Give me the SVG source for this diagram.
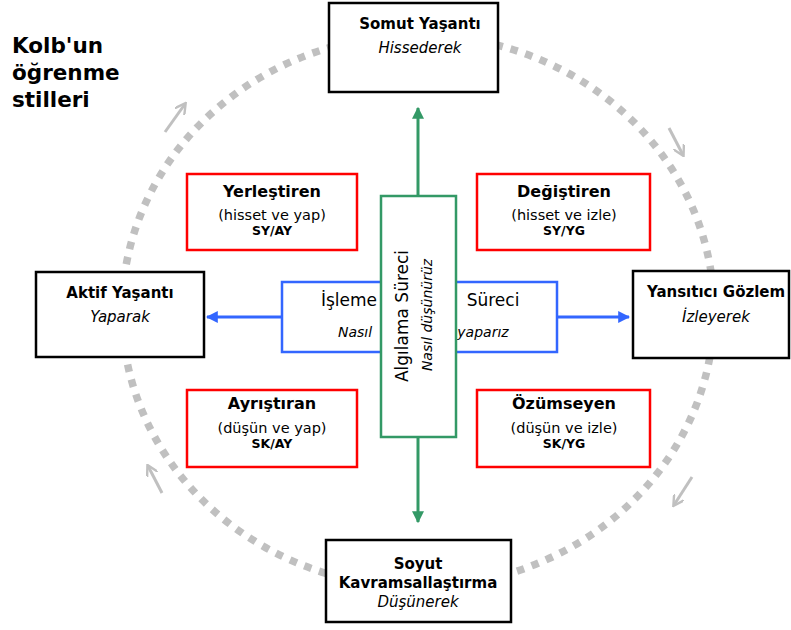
<svg xmlns="http://www.w3.org/2000/svg" width="791" height="630" viewBox="0 0 791 630">
<style>
text{font-family:"DejaVu Sans","Liberation Sans",sans-serif;fill:#000;text-anchor:middle}
.b{font-weight:bold;font-size:15px}
.i{font-style:italic;font-size:15px}
.rb{font-weight:bold;font-size:16px}
.r{font-size:14.5px}
.s{font-weight:bold;font-size:12.5px}
.blk{fill:#fff;stroke:#000;stroke-width:2.5}
.red{fill:#fff;stroke:#ff0000;stroke-width:2.5}
.ring{fill:none;stroke:#c0c0c0;stroke-width:7.5;stroke-dasharray:7.5 8}
.garr{stroke:#c0c0c0;stroke-width:3;fill:none}
</style>
<defs>
<marker id="ag" viewBox="0 0 10 10" refX="9" refY="5" markerWidth="4" markerHeight="4" orient="auto"><path d="M0,0L10,5L0,10z" fill="#339966"/></marker>
<marker id="ab" viewBox="0 0 10 10" refX="9" refY="5" markerWidth="4" markerHeight="4" orient="auto"><path d="M0,0L10,5L0,10z" fill="#3366ff"/></marker>
<marker id="ay" viewBox="0 0 10 10" refX="8" refY="5" markerWidth="4" markerHeight="4" orient="auto"><path d="M0,0L9,5L0,10" fill="none" stroke="#c0c0c0" stroke-width="2"/></marker>
</defs>
<ellipse class="ring" cx="418" cy="311" rx="296" ry="276"/>
<g id="cycle-arrows">
<line class="garr" x1="165" y1="132" x2="185" y2="104" marker-end="url(#ay)"/>
<line class="garr" x1="669" y1="128" x2="683" y2="155" marker-end="url(#ay)"/>
<line class="garr" x1="692" y1="477" x2="674" y2="505" marker-end="url(#ay)"/>
<line class="garr" x1="162" y1="493" x2="148" y2="466" marker-end="url(#ay)"/>
</g>
<g id="title">
<text x="12" y="53" style="text-anchor:start;font-weight:bold;font-size:21.5px">Kolb'un</text>
<text x="12" y="80" style="text-anchor:start;font-weight:bold;font-size:21.5px">öğrenme</text>
<text x="12" y="107" style="text-anchor:start;font-weight:bold;font-size:21.5px">stilleri</text>
</g>
<g id="connectors">
<line x1="418" y1="196" x2="418" y2="108" stroke="#339966" stroke-width="3" marker-end="url(#ag)"/>
<line x1="418" y1="437" x2="418" y2="522" stroke="#339966" stroke-width="3" marker-end="url(#ag)"/>
<line x1="282" y1="317" x2="207" y2="317" stroke="#3366ff" stroke-width="3" marker-end="url(#ab)"/>
<line x1="557" y1="317" x2="629" y2="317" stroke="#3366ff" stroke-width="3" marker-end="url(#ab)"/>
</g>
<g id="somut">
<rect class="blk" x="329" y="3" width="169" height="89"/>
<text class="b" x="420" y="29">Somut Yaşantı</text>
<text class="i" x="420" y="53">Hissederek</text>
</g>
<g id="soyut">
<rect class="blk" x="326" y="540" width="185" height="82"/>
<text class="b" x="418" y="569">Soyut</text>
<text class="b" x="418" y="588">Kavramsallaştırma</text>
<text class="i" x="418" y="607">Düşünerek</text>
</g>
<g id="aktif">
<rect class="blk" x="36" y="272" width="168" height="85"/>
<text class="b" x="120" y="298">Aktif Yaşantı</text>
<text class="i" x="120" y="322">Yaparak</text>
</g>
<g id="yansitici">
<rect class="blk" x="633" y="271" width="156" height="87"/>
<text class="b" x="716" y="297">Yansıtıcı Gözlem</text>
<text class="i" x="716" y="322">İzleyerek</text>
</g>
<g id="yerlestiren">
<rect class="red" x="187" y="174" width="170" height="76"/>
<text class="rb" x="272" y="197">Yerleştiren</text>
<text class="r" x="272" y="220">(hisset ve yap)</text>
<text class="s" x="272" y="235">SY/AY</text>
</g>
<g id="degistiren">
<rect class="red" x="477" y="174" width="173" height="76"/>
<text class="rb" x="564" y="197">Değiştiren</text>
<text class="r" x="564" y="220">(hisset ve izle)</text>
<text class="s" x="564" y="235">SY/YG</text>
</g>
<g id="ayristiran">
<rect class="red" x="187" y="390" width="170" height="77"/>
<text class="rb" x="272" y="409">Ayrıştıran</text>
<text class="r" x="272" y="433">(düşün ve yap)</text>
<text class="s" x="272" y="448">SK/AY</text>
</g>
<g id="ozumseyen">
<rect class="red" x="477" y="390" width="173" height="77"/>
<text class="rb" x="564" y="409">Özümseyen</text>
<text class="r" x="564" y="433">(düşün ve izle)</text>
<text class="s" x="564" y="448">SK/YG</text>
</g>
<g id="isleme">
<rect x="282" y="282" width="275" height="70" fill="#fff" stroke="#3366ff" stroke-width="2.5"/>
<text x="349" y="306" style="font-size:17px">İşleme</text>
<text x="493" y="306" style="font-size:17px">Süreci</text>
<text x="355" y="337" style="font-size:14px;font-style:italic">Nasıl</text>
<text x="483" y="337" style="font-size:14px;font-style:italic">yaparız</text>
</g>
<g id="algilama">
<rect x="381" y="196" width="75" height="241" fill="#fff" stroke="#339966" stroke-width="2.5"/>
<text transform="translate(408,316) rotate(-90)" style="font-size:17px">Algılama Süreci</text>
<text transform="translate(432,315) rotate(-90)" style="font-size:14px;font-style:italic">Nasıl düşünürüz</text>
</g>
</svg>
